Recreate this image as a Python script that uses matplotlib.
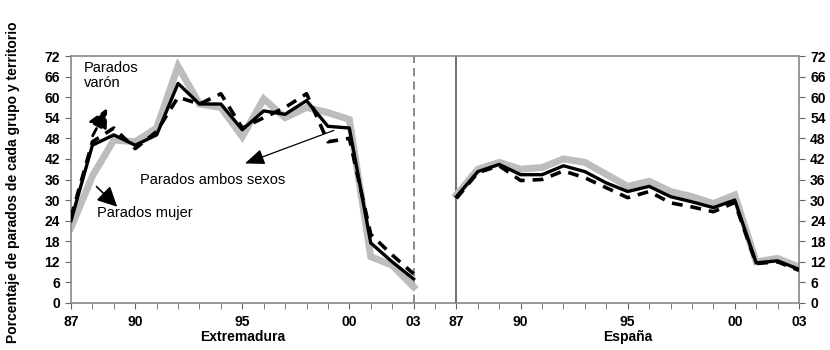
import numpy as np
import matplotlib
matplotlib.use("Agg")
import matplotlib.pyplot as plt

plt.rcParams['font.family'] = ['Liberation Sans', 'DejaVu Sans']

# years 1987..2003
years = ['87', '88', '89', '90', '91', '92', '93', '94', '95',
         '96', '97', '98', '99', '00', '01', '02', '03']
tick_years = ['87', '90', '95', '00', '03']

# Extremadura
ext_ambos = [24, 46, 49, 46, 49, 64, 58, 58, 50.5, 56, 55, 59, 51.5, 51, 17.5, 12, 7]
ext_varon = [25, 47, 51, 45, 50, 60, 58, 61, 51, 54, 57, 61, 47, 48, 20, 14, 8.5]
ext_mujer = [22, 37, 47.5, 47, 51, 69, 58, 57, 48.5, 59.5, 54, 57, 55.5, 53.5, 13.5, 11, 4.7]

# España
esp_ambos = [31, 38.3, 40.4, 37.4, 37.4, 40, 38.3, 35, 32.5, 34, 31, 29.5, 27.8, 30, 11.7, 12.3, 9.8]
esp_varon = [30.5, 38, 40, 35.7, 36, 38.5, 36.5, 33.6, 30.7, 32.5, 29.2, 28, 26.6, 29.3, 11.5, 12, 9.5]
esp_mujer = [31.5, 39, 41, 39, 39.5, 42, 41, 37.5, 34, 35.5, 32.5, 31, 29, 31.5, 12, 13, 10.5]

fig = plt.figure(figsize=(8.3, 3.5), dpi=100)
ax = fig.add_axes([71 / 830, 1 - 303 / 350, (799 - 71) / 830, (303 - 56) / 350])

x_left = np.arange(len(years))
x_right = np.arange(len(years)) + len(years) + 1

gray = '#bdbdbd'
for xs, amb, var, muj in [(x_left, ext_ambos, ext_varon, ext_mujer),
                          (x_right, esp_ambos, esp_varon, esp_mujer)]:
    ax.plot(xs, muj, color=gray, lw=5, solid_joinstyle='miter', zorder=2)
    ax.plot(xs, var, color='black', lw=2.6, ls=(0, (3, 2.2)), zorder=3)
    ax.plot(xs, amb, color='black', lw=2.4, zorder=4)

# panel separators
ax.axvline(x_left[-1], color='#777777', lw=1.2, ls=(0, (5, 3)), zorder=1)
ax.axvline(x_right[0], color='#555555', lw=1.2, zorder=1)

ax.set_xlim(0, x_right[-1])
ax.set_ylim(0, 72)

# x ticks
tick_pos = [x_left[years.index(t)] for t in tick_years] + \
           [x_right[years.index(t)] for t in tick_years]
ax.set_xticks(tick_pos)
ax.set_xticklabels(tick_years + tick_years, fontsize=10, fontweight='bold')
ax.set_xticks(np.arange(0, x_right[-1] + 1), minor=True)
ax.tick_params(axis='x', which='both', length=4, direction='out', color='#666666', pad=5)

# y ticks, both sides
yt = np.arange(0, 73, 6)
ax.set_yticks(yt)
ax.set_yticklabels([str(v) for v in yt], fontsize=10, fontweight='bold')
ax.tick_params(axis='y', which='both', length=4, direction='out', color='#666666',
               left=True, right=True, labelleft=True, labelright=True, pad=4)

for s in ax.spines.values():
    s.set_color('#888888')
    s.set_linewidth(1.2)

# panel names
ax.text(np.mean(x_left), -0.11, 'Extremadura', transform=ax.get_xaxis_transform(),
        ha='center', va='top', fontsize=10, fontweight='bold')
ax.text(np.mean(x_right), -0.11, 'España', transform=ax.get_xaxis_transform(),
        ha='center', va='top', fontsize=10, fontweight='bold')

fig.text(0.016, 0.48, 'Porcentaje de parados de cada grupo y territorio', rotation=90,
         ha='center', va='center', fontsize=10, fontweight='bold')

# annotations
ax.text(0.6, 70.5, 'Parados\nvarón', ha='left', va='top', fontsize=10.5, linespacing=1.05)
ax.annotate('', xy=(1.75, 57.5), xytext=(0.95, 48.0),
            arrowprops=dict(arrowstyle='-|>,head_length=1.0,head_width=0.5',
                            color='black', lw=2, ls=(0, (3, 2)), mutation_scale=12))
ax.text(1.2, 26.3, 'Parados mujer', ha='left', va='center', fontsize=10.5)
ax.annotate('', xy=(2.25, 27.5), xytext=(1.1, 34.5),
            arrowprops=dict(arrowstyle='-|>,head_length=1.0,head_width=0.5',
                            color='black', lw=1.2, mutation_scale=12))
ax.text(3.2, 36, 'Parados ambos sexos', ha='left', va='center', fontsize=10.5)
ax.annotate('', xy=(8.0, 40.4), xytext=(12.4, 50.6),
            arrowprops=dict(arrowstyle='-|>,head_length=1.0,head_width=0.4',
                            color='black', lw=0.9, mutation_scale=12))

fig.savefig('out.png', dpi=100)
